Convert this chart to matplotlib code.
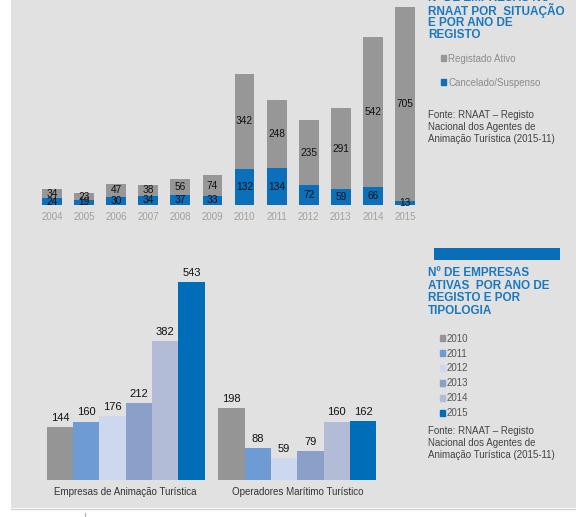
import matplotlib.pyplot as plt
from matplotlib.patches import Rectangle
from matplotlib.lines import Line2D
import numpy as np

plt.rcParams['font.family'] = ['Liberation Sans', 'DejaVu Sans']

# top chart data
years = ['2004', '2005', '2006', '2007', '2008', '2009', '2010', '2011', '2012', '2013', '2014', '2015']
cancelado = [24, 19, 30, 34, 37, 33, 132, 134, 72, 59, 66, 13]
ativo = [34, 23, 47, 38, 56, 74, 342, 248, 235, 291, 542, 705]

# bottom chart data
tipologias = ['Empresas de Animação Turística', 'Operadores Marítimo Turístico']
anos_reg = ['2010', '2011', '2012', '2013', '2014', '2015']
empresas = [144, 160, 176, 212, 382, 543]
operadores = [198, 88, 59, 79, 160, 162]

W, H = 576, 517
bg = '#e1e1e1'
blue_title = '#1a78c2'
c_gray = '#979797'
c_blue = '#0b6fba'
year_colors = ['#959595', '#6f9bd4', '#cdd8ee', '#8aa0c8', '#b2bcd6', '#006db8']


def px(x, y, w, h):
    return [x / W, 1 - (y + h) / H, w / W, h / H]


fig = plt.figure(figsize=(W / 100, H / 100), dpi=100)
fig.patches.append(Rectangle((11 / W, 1 - 508 / H), 1, 508 / H, transform=fig.transFigure,
                             facecolor=bg, edgecolor='none', zorder=-10))
fig.lines.append(Line2D([11 / W, 1], [1 - 509 / H, 1 - 509 / H], transform=fig.transFigure,
                        color='#d2d2d2', lw=1))
fig.lines.append(Line2D([85 / W, 85 / W], [1 - 513 / H, 1 - 517 / H], transform=fig.transFigure,
                        color='#b0b0b0', lw=0.8))

# top stacked bars
ax1 = fig.add_axes(px(36, 6.4, 385, 198.6))
ax1.set_facecolor('none')
x = np.arange(len(years))
b1 = ax1.bar(x, cancelado, width=0.62, color=c_blue)
b2 = ax1.bar(x, ativo, width=0.62, bottom=cancelado, color=c_gray)
ax1.bar_label(b1, label_type='center', fontsize=7.3, color='#111111')
ax1.bar_label(b2, label_type='center', fontsize=7.3, color='#111111')
ax1.set_xlim(-0.5, len(years) - 0.5)
ax1.set_ylim(0, 720)
ax1.set_xticks(x)
ax1.set_xticklabels(years)
ax1.tick_params(length=0, pad=5, labelsize=7, labelcolor='#a0a0a0')
ax1.set_yticks([])
for s in ax1.spines.values():
    s.set_visible(False)

# top title and legend
title1 = ['Nº DE EMPRESAS NO', 'RNAAT POR  SITUAÇÃO', 'E POR ANO DE', 'REGISTO']
for i, t in enumerate(title1):
    fig.text(428 / W, 1 - (-2 + i * 12.5) / H, t, color=blue_title, fontsize=8.5,
             fontweight='bold', va='center', ha='left')
h_top = [Rectangle((0, 0), 1, 1, color=c_gray), Rectangle((0, 0), 1, 1, color=c_blue)]
fig.legend(h_top, ['Registado Ativo', 'Cancelado/Suspenso'], loc='upper left',
           bbox_to_anchor=(432 / W, 1 - 45 / H), frameon=False, fontsize=7,
           handlelength=0.55, handleheight=0.55, handletextpad=0.2, labelspacing=1.45,
           labelcolor='#8c8c8c')
for i, t in enumerate(['Fonte: RNAAT – Registo', 'Nacional dos Agentes de',
                       'Animação Turística (2015-11)']):
    fig.text(428 / W, 1 - (115 + i * 11.8) / H, t, color='#444444', fontsize=7, va='center')

# bottom grouped bars
ax2 = fig.add_axes(px(40, 261.2, 343, 218.8))
ax2.set_facecolor('none')
bw = 0.1535
centers = np.array([0.5, 1.5])
for i, yr in enumerate(anos_reg):
    vals = [empresas[i], operadores[i]]
    bars = ax2.bar(centers + (i - 2.5) * bw, vals, width=bw, color=year_colors[i], label=yr)
    ax2.bar_label(bars, padding=3, fontsize=8, color='#111111')
ax2.set_xlim(0, 2)
ax2.set_ylim(0, 600)
ax2.set_xticks(centers)
ax2.set_xticklabels(tipologias)
ax2.tick_params(length=0, pad=5, labelsize=7, labelcolor='#333333')
ax2.set_yticks([])
for s in ax2.spines.values():
    s.set_visible(False)

fig.patches.append(Rectangle((434 / W, 1 - 260 / H), 126 / W, 12 / H, transform=fig.transFigure,
                             facecolor='#0a6db8', edgecolor='none'))
title2 = ['Nº DE EMPRESAS', 'ATIVAS  POR ANO DE', 'REGISTO E POR', 'TIPOLOGIA']
for i, t in enumerate(title2):
    fig.text(428 / W, 1 - (273 + i * 12.7) / H, t, color=blue_title, fontsize=8.5,
             fontweight='bold', va='center', ha='left')
h_bot = [Rectangle((0, 0), 1, 1, color=c) for c in year_colors]
fig.legend(h_bot, anos_reg, loc='upper left', bbox_to_anchor=(431 / W, 1 - 325 / H),
           frameon=False, fontsize=7, handlelength=0.55, handleheight=0.55,
           handletextpad=0.2, labelspacing=0.5, labelcolor='#555555')
for i, t in enumerate(['Fonte: RNAAT – Registo', 'Nacional dos Agentes de',
                       'Animação Turística (2015-11)']):
    fig.text(428 / W, 1 - (431 + i * 11.8) / H, t, color='#444444', fontsize=7, va='center')

fig.savefig('out.png', dpi=100, facecolor='white')
